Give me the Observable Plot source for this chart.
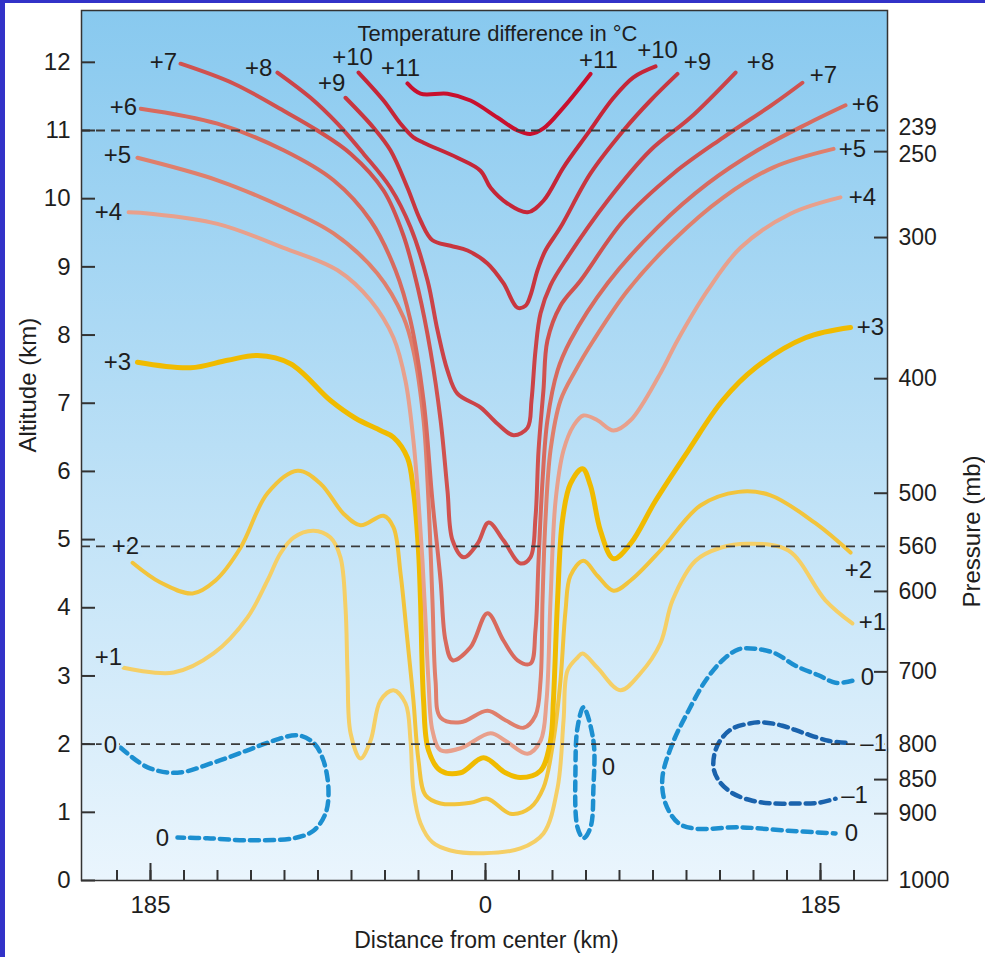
<!DOCTYPE html>
<html><head><meta charset="utf-8">
<script src="https://cdn.jsdelivr.net/npm/d3@7"></script>
<script src="https://cdn.jsdelivr.net/npm/@observablehq/plot@0.6"></script>
<style>
html,body{margin:0;padding:0;background:#fff;}
#wrap{position:relative;width:985px;height:957px;overflow:hidden;background:#fff;}
#wrap svg{position:absolute;left:0;top:0;}
.bl{position:absolute;left:0;top:0;width:5px;height:957px;background:#3232c8;z-index:2;}
.bt{position:absolute;left:0;top:0;width:985px;height:3px;background:#3232c8;z-index:2;}
</style></head><body><div id="wrap"><div class="bl"></div><div class="bt"></div></div>
<script>
// ---------- data (x: distance from center in km, y: altitude in km) ----------
const altitudeTicks = [0,1,2,3,4,5,6,7,8,9,10,11,12];
const distanceMinorTicks = [-203.5,-185,-166.5,-148,-129.5,-111,-92.5,-74,-55.5,-37,-18.5,0,18.5,37,55.5,74,92.5,111,129.5,148,166.5,185,203.5];
const distanceMajorTicks = [-185,0,185];
const pressureLabels = ["239","250","300","400","500","560","600","700","800","850","900","1000"];
const pressureAltitude = [11.0,10.69,9.43,7.36,5.68,4.90,4.24,3.06,2.0,1.48,0.98,0];
const pressureTickAltitude = [10.69,9.43,7.36,5.68,4.24,3.06,1.48,0.98];
const referenceAltitude = [11.0,4.90,2.0];

const plus11 = [[-43.1,11.69],[-35.9,11.54],[-21.0,11.54],[-8.3,11.44],[6.6,11.19],[17.7,11.0],[24.8,10.95],[32.0,11.03],[43.1,11.34],[58.0,11.83]];
const plus10 = [[-70.1,11.85],[-56.3,11.44],[-46.9,11.10],[-39.8,10.90],[-34.2,10.82],[-15.5,10.60],[-2.8,10.41],[2.8,10.16],[12.1,9.93],[23.2,9.80],[32.0,9.97],[43.1,10.46],[56.3,10.95],[70.7,11.48],[81.7,11.78],[93.9,11.94]];
const plus9 = [[-77.3,11.48],[-61.8,11.04],[-52.5,10.71],[-43.1,10.16],[-35.9,9.68],[-29.3,9.39],[-19.3,9.31],[-9.9,9.24],[1.1,9.05],[9.9,8.76],[17.7,8.40],[22.1,8.43],[24.8,8.58],[28.7,8.95],[33.1,9.24],[41.4,9.58],[58.0,10.37],[76.2,11.0],[91.1,11.44],[106.0,11.83]];
const plus8 = [[-114.9,11.85],[-96.6,11.48],[-81.7,11.10],[-67.4,10.66],[-52.5,10.16],[-41.4,9.58],[-32.0,8.80],[-26.5,8.07],[-21.0,7.48],[-15.5,7.14],[-2.8,6.94],[6.6,6.70],[15.5,6.53],[23.2,6.64],[25.4,7.04],[27.6,7.77],[30.4,8.32],[35.9,8.73],[45.3,9.14],[67.4,9.97],[91.1,10.71],[113.2,11.19],[138.1,11.85]];
const plus7 = [[-168.4,11.98],[-139.2,11.69],[-111.5,11.29],[-92.8,11.0],[-74.5,10.66],[-56.3,10.12],[-45.3,9.46],[-37.0,8.65],[-30.4,7.77],[-24.8,6.75],[-21.0,5.72],[-18.2,4.99],[-12.1,4.74],[-4.4,4.94],[1.7,5.25],[9.9,4.99],[19.3,4.65],[24.8,4.74],[27.6,5.32],[29.3,6.31],[32.0,7.19],[34.2,7.92],[41.4,8.43],[52.5,8.80],[76.2,9.68],[103.8,10.37],[131.4,10.90],[159.0,11.39],[175.0,11.70]];
const plus6 = [[-190.5,11.32],[-148.0,11.10],[-111.5,10.71],[-83.9,10.27],[-63.5,9.68],[-49.7,8.95],[-41.4,8.21],[-34.2,7.04],[-29.3,5.57],[-24.8,4.40],[-22.1,3.52],[-18.2,3.23],[-8.3,3.42],[1.1,3.92],[9.9,3.52],[17.7,3.23],[24.8,3.18],[27.6,3.67],[29.3,4.69],[31.5,5.87],[34.2,6.75],[39.8,7.48],[46.9,7.92],[67.4,8.76],[95.0,9.58],[122.6,10.22],[150.2,10.71],[177.8,11.10],[198.8,11.37]];
const plus5 = [[-192.2,10.60],[-148.0,10.27],[-111.5,9.87],[-83.9,9.49],[-59.6,8.90],[-45.3,8.26],[-39.8,7.77],[-34.2,6.75],[-31.5,5.57],[-29.3,4.11],[-27.6,2.93],[-24.8,2.39],[-13.8,2.32],[1.1,2.49],[11.0,2.35],[21.0,2.24],[27.6,2.42],[30.4,2.93],[31.5,4.11],[33.1,5.28],[35.9,6.31],[41.4,7.04],[49.7,7.48],[59.6,7.92],[78.4,8.65],[103.8,9.39],[131.4,10.02],[159.0,10.46],[192.2,10.73]];
const plus4 = [[-197.1,9.80],[-185.0,9.78],[-148.0,9.63],[-111.5,9.28],[-81.7,8.95],[-63.5,8.51],[-50.8,7.96],[-44.2,7.33],[-39.8,6.45],[-37.0,5.57],[-34.8,4.69],[-33.1,3.81],[-31.5,2.93],[-29.3,2.20],[-24.8,1.91],[-13.8,1.94],[2.8,2.16],[11.0,2.05],[23.2,1.86],[30.4,2.05],[33.7,2.64],[35.9,4.11],[38.7,5.57],[43.1,6.31],[48.6,6.67],[54.1,6.82],[61.8,6.75],[70.7,6.60],[80.1,6.75],[96.6,7.44],[106.0,7.92],[122.6,8.65],[140.8,9.28],[168.4,9.78],[196.0,10.02]];
const plus3 = [[-192.2,7.60],[-162.9,7.52],[-142.5,7.63],[-125.9,7.70],[-107.7,7.58],[-85.6,7.04],[-71.8,6.78],[-58.0,6.60],[-50.8,6.50],[-43.1,6.20],[-39.8,5.72],[-37.0,4.84],[-35.9,4.11],[-34.2,2.64],[-31.5,1.91],[-24.8,1.61],[-13.8,1.58],[-1.1,1.80],[11.0,1.58],[19.3,1.51],[30.4,1.61],[35.9,2.05],[37.5,2.64],[39.8,4.11],[42.5,5.28],[46.9,5.82],[53.6,6.04],[58.0,5.79],[63.5,5.13],[70.7,4.72],[80.1,4.94],[93.9,5.57],[112.1,6.31],[130.9,7.04],[149.1,7.52],[176.7,7.96],[201.6,8.11]];
const plus2 = [[-194.9,4.66],[-179.5,4.37],[-161.8,4.21],[-149.1,4.40],[-135.3,4.88],[-120.4,5.68],[-103.8,6.01],[-91.1,5.82],[-78.4,5.38],[-69.0,5.21],[-56.3,5.35],[-50.8,5.18],[-46.9,4.50],[-43.1,3.52],[-39.8,2.64],[-37.0,1.76],[-33.1,1.25],[-24.8,1.13],[-8.3,1.14],[1.1,1.20],[13.8,0.98],[24.8,1.07],[32.0,1.36],[37.5,2.05],[41.4,2.93],[44.2,3.96],[46.9,4.47],[54.1,4.69],[61.8,4.47],[70.7,4.25],[80.1,4.40],[96.6,4.84],[118.7,5.50],[139.7,5.70],[157.4,5.65],[182.2,5.24],[201.6,4.81]];
const plus1 = [[-199.9,3.12],[-172.3,3.05],[-150.2,3.33],[-131.4,3.86],[-120.4,4.40],[-113.2,4.80],[-106.0,5.03],[-95.0,5.13],[-85.6,5.03],[-80.1,4.74],[-77.3,4.00],[-76.2,3.04],[-74.5,2.16],[-69.0,1.79],[-63.5,2.05],[-58.0,2.64],[-50.8,2.79],[-44.2,2.60],[-41.4,2.05],[-39.8,1.32],[-35.9,0.84],[-29.3,0.56],[-19.3,0.44],[-1.1,0.40],[19.3,0.47],[32.0,0.69],[39.8,1.36],[43.1,2.35],[45.3,3.08],[50.8,3.27],[53.6,3.33],[61.8,3.12],[74.5,2.79],[85.6,3.04],[96.6,3.48],[103.3,4.11],[116.0,4.69],[129.8,4.88],[145.2,4.94],[167.3,4.84],[187.7,4.11],[202.6,3.77]];
const zeroLeft = [[-201.6,1.95],[-186.6,1.66],[-170.1,1.58],[-150.2,1.73],[-131.4,1.91],[-117.1,2.05],[-103.8,2.13],[-95.0,2.02],[-89.5,1.76],[-86.7,1.32],[-88.4,0.98],[-95.0,0.73],[-106.0,0.62],[-131.4,0.59],[-153.5,0.62],[-170.1,0.63]];
const zeroCore = [[54.1,2.54],[59.6,2.05],[59.6,1.36],[58.0,0.78],[54.1,0.62],[50.8,0.78],[49.7,1.66],[50.8,2.24]];
const zeroRight = [[202.6,2.93],[193.3,2.90],[183.9,3.01],[171.2,3.15],[160.1,3.33],[149.1,3.40],[139.7,3.39],[130.9,3.23],[121.5,2.93],[112.1,2.49],[103.3,2.01],[97.7,1.51],[99.4,1.13],[106.6,0.84],[116.0,0.76],[139.7,0.78],[167.3,0.73],[193.3,0.69]];
const minusOne = [[198.8,2.02],[189.4,2.05],[175.0,2.17],[164.0,2.27],[153.0,2.32],[145.2,2.30],[136.4,2.23],[130.9,2.10],[127.0,1.91],[125.9,1.66],[128.7,1.47],[136.4,1.28],[147.4,1.17],[158.5,1.13],[172.8,1.13],[183.9,1.14],[193.3,1.20]];

const labelText = ["+7","+8","+9","+10","+11","+6","+5","+4","+3","+2","+1","0","0","+11","+10","+9","+8","+7","+6","+5","+4","+3","+2","+1","0","\u20131","\u20131","0","0"];
const labelX = [-177.8,-125.3,-85.0,-73.4,-46.9,-199.9,-203.2,-208.2,-203.2,-198.8,-208.2,-207.1,-178.4,62.4,95.0,117.1,151.9,186.6,209.8,202.6,208.2,212.6,206.0,213.7,210.9,214.3,203.8,202.1,67.9];
const labelY = [12.0,11.91,11.69,12.07,11.91,11.34,10.63,9.80,7.60,4.90,3.27,1.98,0.62,12.03,12.17,12.0,12.0,11.81,11.39,10.73,10.02,8.11,4.55,3.78,2.98,2.01,1.25,0.69,1.66];

// ---------- styling ----------
const xDomain = [-223.1, 222.0], yDomain = [0, 12.76];
const bgTop = "#88c9ef", bgBottom = "#eaf5fd";
const bgAt = a => d3.interpolateRgb(bgBottom, bgTop)(a / yDomain[1]);
const font = "'Liberation Sans', Arial, Helvetica, sans-serif";
const ink = "#1e1e1e";

const warm = [
  {pts: plus1, color: "#f5cf66", w: 4},
  {pts: plus2, color: "#f2c43c", w: 4},
  {pts: plus3, color: "#f0bb00", w: 5},
  {pts: plus4, color: "#e8a08c", w: 4},
  {pts: plus5, color: "#df7f6c", w: 4},
  {pts: plus6, color: "#d86a5e", w: 4},
  {pts: plus7, color: "#d0524f", w: 4},
  {pts: plus8, color: "#cb4348", w: 4},
  {pts: plus9, color: "#c8363f", w: 4},
  {pts: plus10, color: "#c52638", w: 4},
  {pts: plus11, color: "#c8102e", w: 4}
];
const cold = [
  {pts: zeroLeft, color: "#1c8fd0", curve: "catmull-rom"},
  {pts: zeroCore, color: "#1c8fd0", curve: "catmull-rom-closed"},
  {pts: zeroRight, color: "#1c8fd0", curve: "catmull-rom"},
  {pts: minusOne, color: "#1a63ad", curve: "catmull-rom"}
];
const labels = labelText.map((t, i) => ({t, x: labelX[i], y: labelY[i]}));
const pressureOf = a => pressureLabels[pressureAltitude.indexOf(a)];
const pressureUpper = [pressureAltitude[0]];
const pressureNext = [pressureAltitude[1]];
const pressureRest = pressureAltitude.slice(2);

function background(index, scales, values, dims) {
  const ns = "http://www.w3.org/2000/svg";
  const g = document.createElementNS(ns, "g");
  const defs = document.createElementNS(ns, "defs");
  const lg = document.createElementNS(ns, "linearGradient");
  lg.setAttribute("id", "skyGrad");
  lg.setAttribute("x1", "0"); lg.setAttribute("y1", "0");
  lg.setAttribute("x2", "0"); lg.setAttribute("y2", "1");
  [[0, bgTop], [1, bgBottom]].forEach(([o, c]) => {
    const s = document.createElementNS(ns, "stop");
    s.setAttribute("offset", o); s.setAttribute("stop-color", c);
    lg.appendChild(s);
  });
  defs.appendChild(lg); g.appendChild(defs);
  const r = document.createElementNS(ns, "rect");
  r.setAttribute("x", dims.marginLeft);
  r.setAttribute("y", dims.marginTop);
  r.setAttribute("width", dims.width - dims.marginLeft - dims.marginRight);
  r.setAttribute("height", dims.height - dims.marginTop - dims.marginBottom);
  r.setAttribute("fill", "url(#skyGrad)");
  g.appendChild(r);
  return g;
}

const pressureText = (ticks, dy) => Plot.axisY(ticks, {anchor: "right", tickSize: 0, tickPadding: 11, dy, fontSize: 23, color: ink, label: null, tickFormat: pressureOf});

const chart = Plot.plot({
  width: 985, height: 957,
  marginLeft: 81, marginRight: 98, marginTop: 10, marginBottom: 77,
  x: {domain: xDomain},
  y: {domain: yDomain},
  color: {type: "identity"},
  style: {fontFamily: font, fontSize: "24px", color: ink, background: "transparent"},
  marks: [
    background,
    ...cold.map(c => Plot.line(c.pts, {x: d => d[0], y: d => d[1], stroke: c.color, strokeWidth: 4.5, strokeDasharray: "9,6", curve: c.curve})),
    ...warm.map(c => Plot.line(c.pts, {x: d => d[0], y: d => d[1], stroke: c.color, strokeWidth: c.w, curve: "catmull-rom", strokeLinecap: "round"})),
    Plot.ruleY(referenceAltitude, {stroke: "#3a3a3a", strokeWidth: 1.8, strokeDasharray: "9,6"}),
    Plot.text(labels, {x: "x", y: "y", text: "t", fontSize: 24, fill: ink, stroke: d => bgAt(d.y), strokeWidth: 6, paintOrder: "stroke"}),
    Plot.frame({stroke: "#333", strokeWidth: 1.5}),
    // left axis
    Plot.axisY(altitudeTicks, {anchor: "left", tickSize: 14, dx: 14, tickFormat: () => "", stroke: "#333", strokeWidth: 2, label: null}),
    Plot.axisY(altitudeTicks, {anchor: "left", tickSize: 0, tickPadding: 11, fontSize: 24, color: ink, label: null, tickFormat: d => String(d)}),
    // right pressure axis
    Plot.axisY(pressureTickAltitude, {anchor: "right", tickSize: 14, dx: -14, tickFormat: () => "", stroke: "#333", strokeWidth: 2, label: null}),
    pressureText(pressureUpper, -3),
    pressureText(pressureNext, 3),
    pressureText(pressureRest, 0),
    // bottom axis
    Plot.axisX(distanceMinorTicks, {anchor: "bottom", tickSize: 10, dy: -10, tickFormat: () => "", stroke: "#333", strokeWidth: 2, label: null}),
    Plot.axisX(distanceMajorTicks, {anchor: "bottom", tickSize: 17, dy: -17, tickFormat: () => "", stroke: "#333", strokeWidth: 2, label: null}),
    Plot.axisX(distanceMajorTicks, {anchor: "bottom", tickSize: 0, tickPadding: 15, fontSize: 24, color: ink, label: null, tickFormat: d => String(Math.abs(d))}),
    // titles
    Plot.text(["Temperature difference in \u00B0C"], {frameAnchor: "top", lineAnchor: "middle", dx: 13, dy: 23, fontSize: 22, fill: ink}),
    Plot.text(["Altitude (km)"], {frameAnchor: "left", lineAnchor: "middle", dx: -53, dy: 7, rotate: -90, fontSize: 24, fill: ink}),
    Plot.text(["Pressure (mb)"], {frameAnchor: "right", lineAnchor: "middle", dx: 85, dy: 10, rotate: -90, fontSize: 24, fill: ink}),
    Plot.text(["Distance from center (km)"], {frameAnchor: "bottom", lineAnchor: "middle", dx: 2, dy: 60, fontSize: 23, fill: ink})
  ]
});
document.getElementById("wrap").insertBefore(chart, document.getElementById("wrap").firstChild);
</script>
</body></html>
